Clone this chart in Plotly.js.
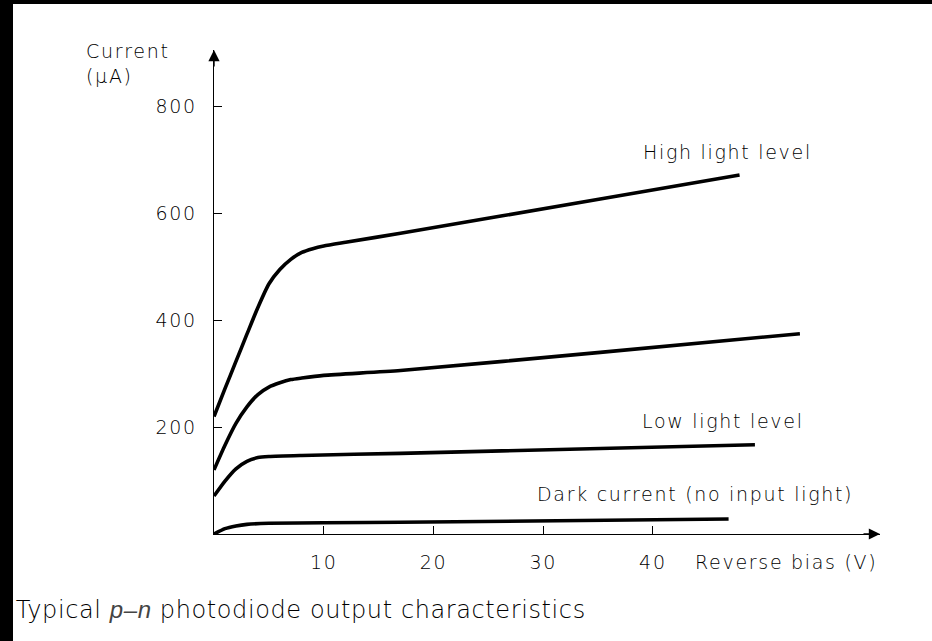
<!DOCTYPE html>
<html>
<head>
<meta charset="utf-8">
<script src="https://cdn.plot.ly/plotly-3.0.1.min.js"></script>
<style>
html,body{margin:0;padding:0;background:#000;width:932px;height:641px;overflow:hidden;}
#chart{position:absolute;left:13px;top:4px;width:919px;height:637px;background:#fff;}
svg text{letter-spacing:1.7px;}
svg text.gtitle{letter-spacing:0.6px;}
</style>
</head>
<body>
<div id="chart"></div>
<script>
// Reverse bias (V) and current (µA)
const highX = [0, 1, 2, 3, 4, 5, 6, 7, 8, 9, 10, 12, 17, 35.2, 47.9];
const highY = [220, 272, 323, 374, 424, 468, 495, 514, 527, 534, 539, 546, 563, 627, 672];
const midX  = [0, 1, 2, 3, 4, 5, 6, 7, 8, 10, 17, 35.2, 53.4];
const midY  = [120, 166, 207, 238, 261, 275, 283, 289, 292, 297, 306, 340, 375];
const lowX  = [0, 1, 2, 3, 4, 5, 8, 17, 35.2, 49.3];
const lowY  = [71, 99, 122, 136, 143, 145, 147, 151, 160, 167];
const darkX = [0, 1, 2, 3, 5, 10, 17, 46.9];
const darkY = [0, 10, 15, 18, 20, 21, 22, 28];

const xTicks = [10, 20, 30, 40];
const yTicks = [200, 400, 600, 800];

const labels = [
  {text: 'High light level', x: 46.8, y: 715},
  {text: 'Low light level', x: 46.4, y: 212},
  {text: 'Dark current (no input light)', x: 43.8, y: 75}
];

const FONT = 'DejaVu Sans';
const TXT = {family: FONT, size: 19, color: '#000', weight: 200};
const lineStyle = {color: '#000', width: 3.6, shape: 'spline', smoothing: 0.6};

const traces = [
  [highX, highY], [midX, midY], [lowX, lowY], [darkX, darkY]
].map(([x, y]) => ({x, y, mode: 'lines', type: 'scatter', line: lineStyle, hoverinfo: 'skip', cliponaxis: false}));

const XMAX = 60.7, YMAX = 906;

const annotations = labels.map(l => ({
  text: l.text, x: l.x, y: l.y, xref: 'x', yref: 'y', showarrow: false,
  xanchor: 'center', yanchor: 'middle', font: TXT
}));

annotations.push(
  {x: XMAX, y: 0, xref: 'x', yref: 'y', ax: -18, ay: 0, showarrow: true, arrowhead: 2, arrowsize: 1.6, arrowwidth: 1.4, arrowcolor: '#000', text: ''},
  {x: 0, y: YMAX, xref: 'x', yref: 'y', ax: 0, ay: 18, showarrow: true, arrowhead: 2, arrowsize: 1.6, arrowwidth: 1.4, arrowcolor: '#000', text: ''},
  {text: 'Reverse bias (V)', x: 0.999, y: -0.058, xref: 'paper', yref: 'paper', xanchor: 'right', yanchor: 'middle', showarrow: false, font: TXT},
  {text: 'Current<br>(µA)', x: -0.063, y: 0.972, xref: 'paper', yref: 'paper', xanchor: 'right', yanchor: 'middle', align: 'left', showarrow: false, font: TXT}
);

const layout = {
  width: 919, height: 637,
  margin: {l: 201, r: 52, t: 46, b: 107, pad: 0},
  paper_bgcolor: '#fff', plot_bgcolor: '#fff',
  showlegend: false,
  title: {
    text: 'Typical <span style="font-family:\'Liberation Sans\';font-style:italic;font-weight:400;fill:#444">p–n</span> photodiode output characteristics',
    x: 0.003, xanchor: 'left', xref: 'container',
    y: 0.05, yanchor: 'middle', yref: 'container',
    font: {family: FONT, size: 24, color: '#000', weight: 200}
  },
  xaxis: {
    range: [0, XMAX], showgrid: false, zeroline: false,
    showline: true, linecolor: '#000', linewidth: 1.4,
    tickmode: 'array', tickvals: xTicks, ticktext: xTicks.map(String),
    ticks: 'inside', ticklen: 8, tickwidth: 1, tickcolor: '#000',
    ticklabelstandoff: 11,
    tickfont: TXT, fixedrange: true
  },
  yaxis: {
    range: [0, YMAX], showgrid: false, zeroline: false,
    showline: true, linecolor: '#000', linewidth: 1.4,
    tickmode: 'array', tickvals: yTicks, ticktext: yTicks.map(String),
    ticks: 'inside', ticklen: 8, tickwidth: 1, tickcolor: '#000',
    ticklabelstandoff: 12,
    tickfont: TXT, fixedrange: true
  },
  annotations
};

Plotly.newPlot('chart', traces, layout, {staticPlot: true, displayModeBar: false});
</script>
</body>
</html>
